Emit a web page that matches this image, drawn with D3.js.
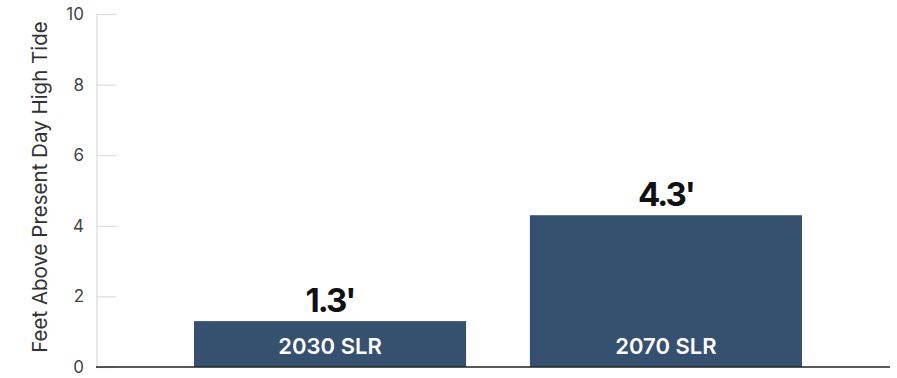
<!DOCTYPE html>
<html>
<head>
<meta charset="utf-8">
<script src="https://cdn.jsdelivr.net/npm/d3@7"></script>
<style>
  html, body { margin: 0; padding: 0; background: #fff; }
  svg { display: block; font-family: Inter, "Liberation Sans", sans-serif; }
</style>
</head>
<body>
<svg id="chart" width="897" height="378"></svg>
<script>
// Sea level rise scenarios, feet above present-day high tide
const categories = ["2030 SLR", "2070 SLR"];
const values = [1.3, 4.3];
const valueLabels = ["1.3'", "4.3'"];
const yTicks = [0, 2, 4, 6, 8, 10];
const yTitle = "Feet Above Present Day High Tide";

const svg = d3.select("#chart");
const axisX = 96.5, baseY = 367, topY = 14, rightX = 890;

const y = d3.scaleLinear().domain([0, 10]).range([baseY, topY]);
const x = d3.scaleBand().domain(categories).range([102, 894])
  .paddingInner(0.19).paddingOuter(0.274);

// y axis: light vertical rule with short gridline ticks
const yAxis = d3.axisRight(y).tickValues(yTicks).tickSize(20).tickFormat("");
const gy = svg.append("g").attr("transform", `translate(${axisX},0)`).call(yAxis);
gy.select(".domain").attr("stroke", "#d9d9d9").attr("stroke-width", 1.2);
gy.selectAll(".tick line").attr("stroke", "#dcdcdc").attr("stroke-width", 1.2);

// tick labels
svg.append("g").selectAll("text").data(yTicks).join("text")
  .attr("x", 84).attr("y", d => y(d)).attr("dy", "0.35em")
  .attr("text-anchor", "end")
  .attr("font-size", 17).attr("fill", "#444")
  .text(d => d);

// axis title
svg.append("text")
  .attr("transform", `translate(47,187) rotate(-90)`)
  .attr("text-anchor", "middle")
  .attr("font-size", 20.5).attr("fill", "#333")
  .text(yTitle);

// bars
const data = categories.map((c, i) => ({ c, v: values[i], label: valueLabels[i] }));
svg.append("g").selectAll("rect").data(data).join("rect")
  .attr("x", d => x(d.c)).attr("width", x.bandwidth())
  .attr("y", d => y(d.v)).attr("height", d => y(0) - y(d.v))
  .attr("fill", "#36506f");

// value labels above bars
svg.append("g").selectAll("text").data(data).join("text")
  .attr("x", d => x(d.c) + x.bandwidth() / 2)
  .attr("y", d => y(d.v) - 9)
  .attr("text-anchor", "middle")
  .attr("font-size", 33).attr("font-weight", 700).attr("fill", "#111")
  .attr("letter-spacing", "-2")
  .text(d => d.label);

// category labels inside bars
svg.append("g").selectAll("text").data(data).join("text")
  .attr("x", d => x(d.c) + x.bandwidth() / 2)
  .attr("y", baseY - 13)
  .attr("text-anchor", "middle")
  .attr("font-size", 22).attr("font-weight", 600).attr("fill", "#fff")
  .text(d => d.c);

// baseline
svg.append("line")
  .attr("x1", axisX - 0.5).attr("x2", rightX)
  .attr("y1", baseY).attr("y2", baseY)
  .attr("stroke", "#222").attr("stroke-width", 1.6);
</script>
</body>
</html>
